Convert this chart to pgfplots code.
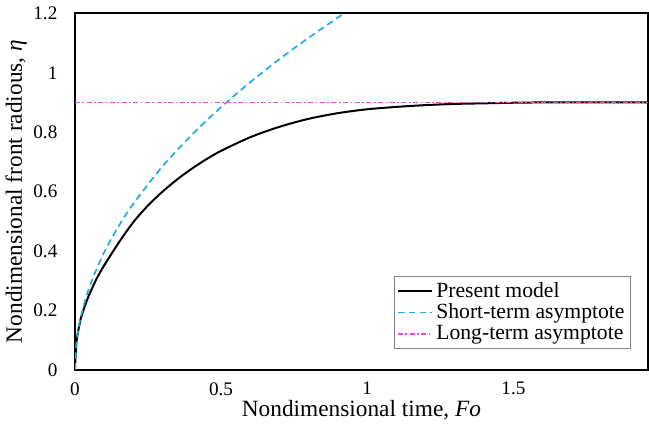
\documentclass[border=0pt]{standalone}
\usepackage{fontspec}
\setmainfont{Liberation Serif}
\usepackage{pgfplots}
\pgfplotsset{compat=1.18}
\definecolor{stblue}{RGB}{30,170,230}
\definecolor{ltpink}{RGB}{240,70,200}

\begin{document}
\begin{tikzpicture}
\begin{axis}[
  scale only axis, width=344pt, height=214pt,
  xmin=0, xmax=1.96, ymin=0, ymax=1.2,
  xtick={0,0.5,1,1.5}, ytick={0,0.2,0.4,0.6,0.8,1,1.2},
  major tick length=0pt,
  /pgf/number format/assume math mode=true,
  tick label style={font=\fontsize{11.5}{13}\selectfont},
  xticklabel style={yshift=-4pt},
  yticklabel style={xshift=-7pt},
  label style={font=\fontsize{14}{15}\selectfont},
  xlabel={Nondimensional time, \textit{Fo}},
  ylabel={Nondimensional front radious, {\itshape η}},
  xlabel style={yshift=4pt},
  ylabel style={yshift=-3pt},
  axis line style={line width=1.3pt},
  legend style={at={(0.97,0.06)}, anchor=south east, draw=gray,
    font=\fontsize{13}{14}\selectfont, row sep=-1.5pt, inner sep=1.5pt},
  legend cell align=left,
  legend image code/.code={\draw[#1] (0cm,0cm) -- (0.72cm,0cm);},
]
\addplot[black, line width=1.2pt, smooth, tension=0.5] coordinates {
 (0,0) (0.005,0.088) (0.01,0.123) (0.02,0.172) (0.035,0.217) (0.05,0.255)
 (0.075,0.308) (0.1,0.351) (0.15,0.428) (0.2,0.497) (0.25,0.553) (0.3,0.600)
 (0.35,0.641) (0.4,0.677) (0.45,0.709) (0.5,0.737) (0.6,0.783) (0.7,0.818)
 (0.8,0.845) (0.9,0.864) (1.0,0.877) (1.1,0.885) (1.2,0.891) (1.3,0.895)
 (1.4,0.897) (1.5,0.899) (1.6,0.9) (1.8,0.9) (1.96,0.9)};
\addplot[stblue, line width=1pt, dash pattern=on 4pt off 2.5pt, smooth, tension=0.5] coordinates {
 (0,0) (0.005,0.088) (0.01,0.125) (0.02,0.177) (0.05,0.280) (0.1,0.395)
 (0.15,0.484) (0.2,0.559) (0.3,0.685) (0.4,0.791) (0.5,0.884) (0.6,0.968)
 (0.7,1.046) (0.8,1.118) (0.9,1.186) (0.922,1.2)};
\addplot[ltpink, line width=0.9pt, dash pattern=on 3pt off 1.5pt on 1pt off 1.5pt] coordinates {(0,0.9) (1.96,0.9)};
\legend{Present model, Short-term asymptote, Long-term asymptote}
\end{axis}
\path (current axis.north west) ++(0,8pt);
\end{tikzpicture}
\end{document}
